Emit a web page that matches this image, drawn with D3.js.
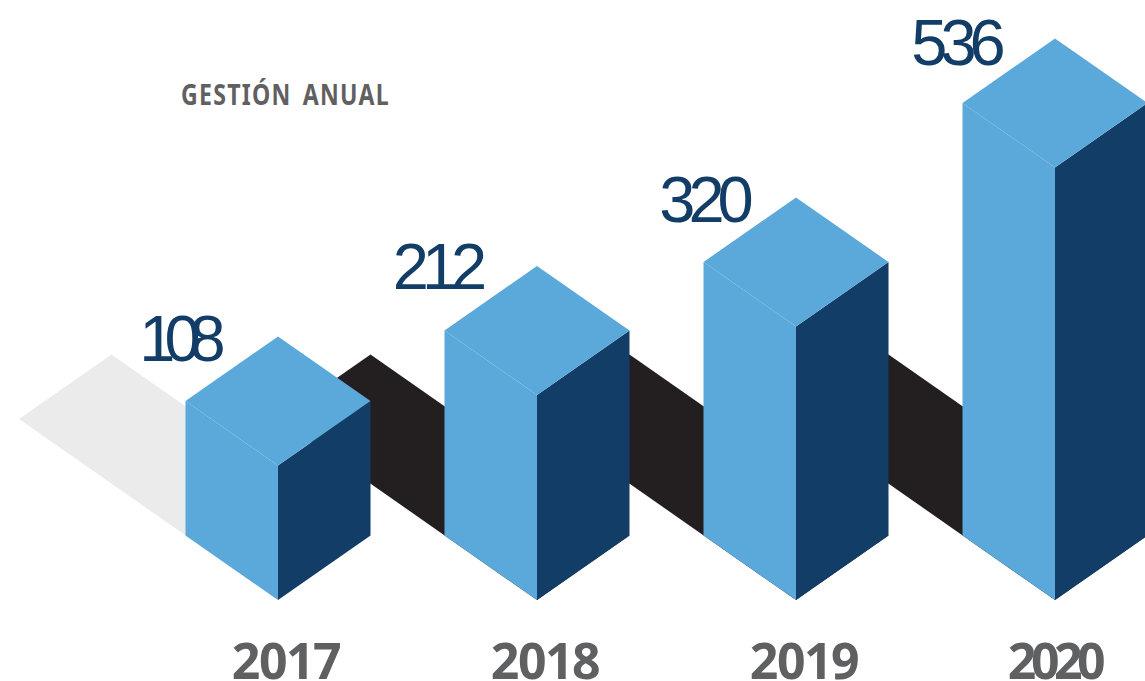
<!DOCTYPE html>
<html>
<head>
<meta charset="utf-8">
<script src="https://cdn.jsdelivr.net/npm/d3@7"></script>
<style>
html, body { margin: 0; padding: 0; background: #fff; }
svg { display: block; }
</style>
</head>
<body>
<svg id="chart" width="1145" height="681"></svg>
<script>
const years = ["2017", "2018", "2019", "2020"];
const values = [108, 212, 320, 536];
const chartTitle = "GESTIÓN ANUAL";

const svg = d3.select("#chart");
const floorY = 600;      // y of each block's front-bottom corner
const halfW = 92.5;      // horizontal half-diagonal of the block footprint
const halfD = 64.5;      // vertical half-diagonal of the block footprint
const bandRise = 181;    // how far a floor band climbs over one slot

const x = d3.scalePoint().domain(years).range([278, 1055]);
const step = x.step();

// Block height grows with the value, on a slightly bent scale.
const height = d3.scaleLinear().domain([0, 212, 320, 536]).range([61.3, 205, 273.5, 432.5]);

const line = d3.line();
const poly = pts => line(pts) + "Z";

// Floor band running from the previous slot up to each block.
svg.append("g").selectAll("path")
  .data(years)
  .join("path")
  .attr("d", d => {
    const c = x(d);
    return poly([
      [c, floorY],
      [c + halfW, floorY - halfD],
      [c + halfW - step, floorY - halfD - bandRise],
      [c - step, floorY - bandRise]
    ]);
  })
  .attr("fill", (d, i) => i === 0 ? "#ebebeb" : "#231f20");

// Blocks: left face, right face, top face, value.
const blocks = svg.append("g").selectAll("g")
  .data(years.map((y, i) => ({ year: y, value: values[i], i })))
  .join("g");

blocks.append("path")
  .attr("fill", "#5ba8da")
  .attr("d", d => {
    const c = x(d.year), t = floorY - height(d.value);
    return poly([[c, floorY], [c - halfW, floorY - halfD], [c - halfW, t - halfD], [c, t]]);
  });

blocks.append("path")
  .attr("fill", "#123d66")
  .attr("d", d => {
    const c = x(d.year), t = floorY - height(d.value);
    return poly([[c, floorY], [c + halfW, floorY - halfD], [c + halfW, t - halfD], [c, t]]);
  });

blocks.append("path")
  .attr("fill", "#5ba8da")
  .attr("d", d => {
    const c = x(d.year), t = floorY - height(d.value);
    return poly([[c, t], [c + halfW, t - halfD], [c, t - 2 * halfD], [c - halfW, t - halfD]]);
  });

// Hand-placed nudges for the large value figures.
const figureDx = [-101, -100.5, -93, -100];
const figureDy = [-40, -42, -40, -38];
const figureTracking = [-11, -7, -7, -7];

blocks.append("text")
  .text(d => d.value)
  .attr("x", d => x(d.year) + figureDx[d.i])
  .attr("y", d => floorY - height(d.value) - halfD + figureDy[d.i])
  .attr("text-anchor", "middle")
  .attr("font-family", "'Liberation Sans', Arial, sans-serif")
  .attr("font-size", 65)
  .attr("letter-spacing", d => figureTracking[d.i])
  .attr("fill", "#123d66");

// Year labels along the bottom edge.
svg.append("g").selectAll("text")
  .data(years)
  .join("text")
  .text(d => d)
  .attr("x", (d, i) => x(d) + (i === 3 ? -1 : 8))
  .attr("y", 679)
  .attr("text-anchor", "middle")
  .attr("font-family", "'Noto Sans', sans-serif")
  .attr("font-weight", 700)
  .attr("font-size", 50)
  .attr("letter-spacing", (d, i) => i === 3 ? -5.5 : -1.5)
  .attr("fill", "#5f6062");

svg.append("text")
  .text(chartTitle)
  .attr("x", 181)
  .attr("y", 105)
  .attr("font-family", "'Noto Sans', sans-serif")
  .attr("font-weight", 700)
  .attr("font-size", 28)
  .attr("letter-spacing", 1.5)
  .attr("word-spacing", 5)
  .attr("textLength", 209)
  .attr("lengthAdjust", "spacingAndGlyphs")
  .attr("fill", "#5f6062");
</script>
</body>
</html>
